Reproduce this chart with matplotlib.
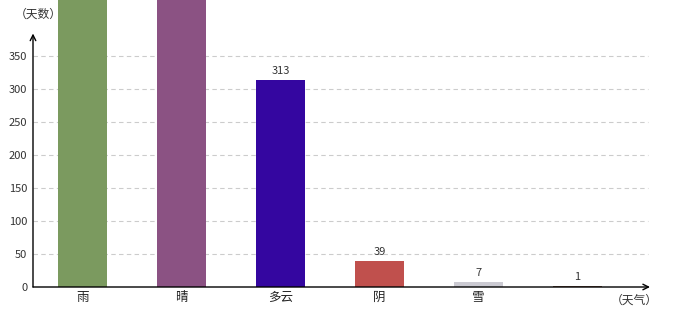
import matplotlib
matplotlib.use('Agg')
import matplotlib.pyplot as plt

plt.rcParams['font.family'] = ['Noto Sans CJK SC', 'DejaVu Sans']

# 天气分类与天数（雨、晴两根柱子超出画面，数值为估计）
categories = ['雨', '晴', '多云', '阴', '雪', '']
days = [520, 500, 313, 39, 7, 1]
colors = ['#7b9a5f', '#8b5283', '#3406a0', '#c0504d', '#cbcad2', '#7a5a4a']
yticks = [0, 50, 100, 150, 200, 250, 300, 350]

fig = plt.figure(figsize=(6.8, 3.2), dpi=100)
ax = fig.add_axes([33 / 680, 33 / 320, 1 - 33 / 680, 1 - 33 / 320])

x = range(len(categories))
ax.set_xlim(-0.5, 6.035)
ax.set_ylim(0, 434.8)

# 虚线网格
grid_end = 5.712
for v in yticks[1:]:
    ax.plot([-0.5, grid_end], [v, v], color='#cccccc', linewidth=0.8,
            linestyle=(0, (4, 3)), zorder=1)

ax.bar(x, days, width=49 / 99, color=colors, zorder=3)

for xi, v in zip(x, days):
    if v < 400:
        ax.text(xi, v + 6, str(v), ha='center', va='bottom', fontsize=8,
                color='#333333', zorder=4)

# 坐标轴箭头
ax.annotate('', xy=(grid_end + 0.02, 0), xytext=(-0.5, 0),
            arrowprops=dict(arrowstyle='->', color='black', lw=1.0,
                            shrinkA=0, shrinkB=0), zorder=5)
ax.annotate('', xy=(-0.5, 384), xytext=(-0.5, 0),
            arrowprops=dict(arrowstyle='->', color='black', lw=1.0,
                            shrinkA=0, shrinkB=0), zorder=5)

for s in ax.spines.values():
    s.set_visible(False)
ax.set_xticks(list(x))
ax.set_xticklabels(categories, fontsize=9, color='#222222')
ax.set_yticks(yticks)
ax.set_yticklabels([str(v) for v in yticks], fontsize=8, color='#333333')
ax.tick_params(length=0, pad=3)
ax.tick_params(axis='y', pad=4)

ax.text(-0.45, 413, '（天数）', ha='center', va='center', fontsize=8.5,
        color='#333333', clip_on=False, zorder=2)
ax.text(5.57, -20, '（天气）', ha='center', va='center', fontsize=8.5,
        color='#333333', clip_on=False, zorder=2)

fig.savefig('out.png', dpi=100)
